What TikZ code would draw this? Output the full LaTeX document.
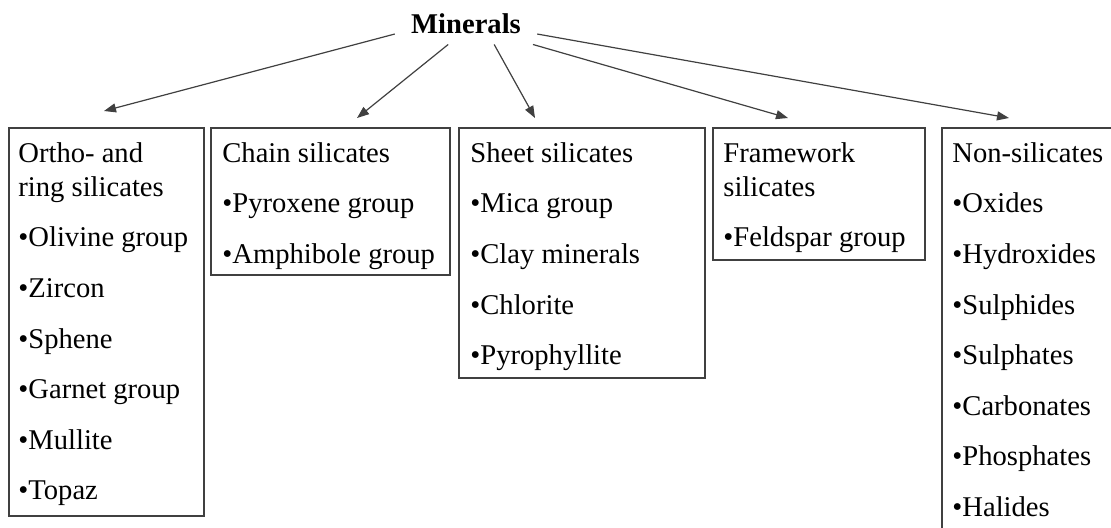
\documentclass[tikz,border=0pt]{standalone}
\usepackage{fontspec}
\setmainfont{Liberation Serif}
\usetikzlibrary{arrows.meta}

\tikzset{
  catbox/.style={draw=black!75, line width=0.8pt, inner sep=0pt, anchor=north west},
  cattext/.style={anchor=north west, inner sep=0pt, align=left,
    font=\fontsize{14.3}{17}\selectfont},
  arr/.style={-{Triangle[length=6pt,width=4.5pt]}, draw=black!75, line width=0.6pt},
}

\begin{document}
\begin{tikzpicture}[x=0.5pt,y=-0.5pt]
  \useasboundingbox (0,0) rectangle (1111,527);
  \clip (0,0) rectangle (1111,527);

  % title
  \node[font=\fontsize{14.3}{17}\selectfont\bfseries, inner xsep=8pt, inner ysep=5pt]
    (minerals) at (466,24) {Minerals};

  % group boxes
  \node[catbox, minimum width=97.5pt, minimum height=194pt] (ortho) at (8,127) {};
  \node[catbox, minimum width=119.5pt, minimum height=73.5pt] (chain) at (210,127) {};
  \node[catbox, minimum width=123pt, minimum height=125pt] (sheet) at (458,127) {};
  \node[catbox, minimum width=106pt, minimum height=66pt] (frame) at (712,127) {};
  \node[catbox, minimum width=102pt, minimum height=215pt] (nonsil) at (941,127) {};

  % box contents
  \node[cattext] (orthotxt) at ([shift={(5pt,-7.5pt)}]ortho.north west)
    {Ortho- and\\ring silicates\\[8.3pt]•Olivine group\\[8.3pt]•Zircon\\[8.3pt]•Sphene\\[8.3pt]•Garnet group\\[8.3pt]•Mullite\\[8.3pt]•Topaz};
  \node[cattext] (chaintxt) at ([shift={(6pt,-7.5pt)}]chain.north west)
    {Chain silicates\\[8.3pt]•Pyroxene group\\[8.3pt]•Amphibole group};
  \node[cattext] (sheettxt) at ([shift={(6pt,-7.5pt)}]sheet.north west)
    {Sheet silicates\\[8.3pt]•Mica group\\[8.3pt]•Clay minerals\\[8.3pt]•Chlorite\\[8.3pt]•Pyrophyllite};
  \node[cattext] (frametxt) at ([shift={(5.5pt,-7.5pt)}]frame.north west)
    {Framework\\silicates\\[8.3pt]•Feldspar group};
  \node[cattext] (nonsiltxt) at ([shift={(5.5pt,-7.5pt)}]nonsil.north west)
    {Non-silicates\\[8.3pt]•Oxides\\[8.3pt]•Hydroxides\\[8.3pt]•Sulphides\\[8.3pt]•Sulphates\\[8.3pt]•Carbonates\\[8.3pt]•Phosphates\\[8.3pt]•Halides};

  % arrow tips
  \coordinate (tipA) at (104,111);
  \coordinate (tipB) at (357,118);
  \coordinate (tipC) at (535,118);
  \coordinate (tipD) at (788,118);
  \coordinate (tipE) at (1009,118);

  \draw[arr] (minerals.188) -- (tipA);
  \draw[arr] (minerals.229) -- (tipB);
  \draw[arr] (minerals.324) -- (tipC);
  \draw[arr] (minerals.343) -- (tipD);
  \draw[arr] (minerals.352) -- (tipE);
\end{tikzpicture}
\end{document}
